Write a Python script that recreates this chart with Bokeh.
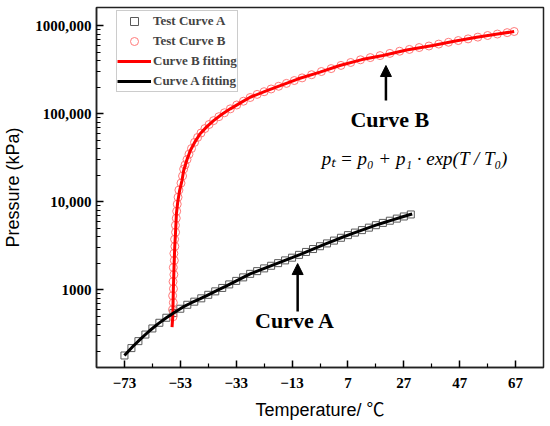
from bokeh.plotting import figure
from bokeh.models import Range1d, FixedTicker, Legend, LegendItem, Label, Arrow, NormalHead
from bokeh.embed import file_html
from bokeh.resources import INLINE

# ---------------- data ----------------
# Test Curve A (squares): temperature (degC) and pressure (kPa)
a_test_temp = [-73, -70.5, -68, -65.5, -63, -60.5, -58, -55.5, -53, -50.5,
               -48, -45.5, -43, -40.5, -38, -35.5, -33, -30.5, -28, -25.5,
               -23, -20.5, -18, -15.5, -13, -10.5, -8, -5.5, -3, -0.5,
               2, 4.5, 7, 9.5, 12, 14.5, 17, 19.5, 22, 24.5, 27, 29.5]
a_test_pres = [178, 216, 259, 308, 361, 419, 478, 540, 605, 671,
               728, 794, 871, 953, 1042, 1143, 1253, 1374, 1507, 1618,
               1738, 1862, 1995, 2143, 2301, 2477, 2673, 2884, 3105, 3342,
               3597, 3873, 4150, 4436, 4732, 5047, 5383, 5715, 6053, 6397, 6761, 7129]

# Test Curve B (circles)
b_test_temp = [-55.6, -55.8, -55.5, -55.75, -55.45, -55.6, -55.3, -55.5, -55.15, -55.3,
               -54.95, -55.05, -54.7, -54.75, -54.45, -54.3, -54.1, -53.8, -53.5, -52.75,
               -52.2, -51.8, -51.3, -50.6, -49.9, -49.0, -47.9, -46.8, -45.6, -44.2,
               -42.7, -41.1, -39.2, -37.2, -35.1, -32.8, -30.4, -28.0, -25.5, -23.0,
               -20.5, -17.8, -15.0, -12.2, -9.4, -6.0, -2.5, 1.0, 4.5, 8.0,
               11.5, 15.0, 18.5, 22.0, 25.5, 29.0, 32.5, 36.0, 39.5, 43.0,
               46.5, 50.0, 53.5, 57.0, 60.5, 64.0, 66.5]
b_test_pres = [490, 590, 710, 850, 1020, 1230, 1480, 1780, 2140, 2570,
               3090, 3720, 4470, 5370, 6460, 7760, 9330, 11200, 13500, 16200,
               19500, 23400, 26000, 30000, 34500, 40000, 47000, 53500, 60000, 67500,
               75000, 83000, 92000, 102000, 113000, 125000, 138000, 152000, 165000, 177000,
               190000, 204000, 220000, 237000, 254000, 276000, 300000, 324000, 352000, 380000,
               408000, 432000, 455000, 482000, 510000, 535000, 562000, 585000, 615000, 645000,
               675000, 705000, 738000, 770000, 800000, 830000, 855000]

# Curve A fitting (black line)
a_fit_temp = [-73, -70, -67, -64, -61, -58, -55, -52, -49, -46, -43, -40, -37, -34,
              -31, -28, -25, -22, -19, -16, -13, -10, -7, -4, -1, 2, 5, 8, 11, 14,
              17, 20, 23, 26, 29, 30]
a_fit_pres = [178, 225, 279, 340, 407, 478, 552, 634, 708, 782, 871, 970, 1081, 1208,
              1349, 1507, 1641, 1786, 1941, 2113, 2301, 2512, 2754, 3020, 3296, 3597, 3926,
              4266, 4613, 4989, 5383, 5781, 6194, 6622, 7063, 7211]

# Curve B fitting (red line)
b_fit_temp = [-55.96, -55.7, -55.5, -55.25, -55.0, -54.7, -54.4, -53.9, -53.25, -52.4,
              -51.8, -50.6, -49.4, -47.7, -45.9, -43.5, -41.1, -38.1, -35.1, -31.5,
              -28.0, -22.0, -16.0, -10.75, -3.0, 4.1, 12.0, 19.5, 28.0, 37.4,
              45.0, 53.1, 60.0, 66.5]
b_fit_pres = [373, 493, 975, 1800, 3020, 4500, 7240, 10000, 13300, 17300,
              22500, 30000, 38000, 48000, 58900, 71000, 83000, 98000, 113000, 132000,
              153000, 182000, 214000, 248000, 295000, 351000, 410000, 457000, 528000, 593000,
              662000, 736000, 795000, 855000]

x_ticks = [-73, -53, -33, -13, 7, 27, 47, 67]
x_tick_labels = ["\u221273", "\u221253", "\u221233", "\u221213", "7", "27", "47", "67"]
x_minor = [-63, -43, -23, -3, 17, 37, 57]
y_ticks = [1000, 10000, 100000, 1000000]
y_tick_labels = ["1000", "10,000", "100,000", "1000,000"]

y_minor = [m * 10 ** e for e in range(2, 7) for m in range(2, 10)]

# ---------------- figure ----------------
p = figure(width=550, height=426, output_backend="svg", toolbar_location=None,
           x_range=Range1d(-83, 77), y_range=Range1d(130, 1.602e6), y_axis_type="log",
           min_border_left=96, min_border_right=7, min_border_top=7, min_border_bottom=59,
           background_fill_color="white", border_fill_color="white")
p.grid.visible = False
p.outline_line_color = "#222222"
p.outline_line_width = 1.5

for ax in (p.xaxis[0], p.yaxis[0]):
    ax.axis_line_color = "#222222"
    ax.axis_line_width = 1.5
    ax.major_tick_in = 7
    ax.major_tick_out = 0
    ax.minor_tick_in = 4
    ax.minor_tick_out = 0
    ax.major_tick_line_width = 1.5
    ax.minor_tick_line_width = 1.2
    ax.major_label_text_font = "Liberation Serif"
    ax.major_label_text_font_style = "bold"
    ax.major_label_text_font_size = "15px"
    ax.major_label_text_color = "black"
    ax.axis_label_text_font = "Liberation Sans, Noto Sans CJK SC"
    ax.axis_label_text_font_style = "normal"
    ax.axis_label_text_font_size = "18px"
    ax.axis_label_text_color = "black"

p.xaxis.ticker = FixedTicker(ticks=x_ticks, minor_ticks=x_minor)
p.xaxis.major_label_overrides = dict(zip(x_ticks, x_tick_labels))
p.xaxis.major_label_standoff = 10
p.xaxis.axis_label = "Temperature/ \u2103"
p.xaxis.axis_label_standoff = 9

p.yaxis.ticker = FixedTicker(ticks=y_ticks, minor_ticks=y_minor)
p.yaxis.major_label_overrides = dict(zip(y_ticks, y_tick_labels))
p.yaxis.major_label_standoff = 5
p.yaxis.axis_label = "Pressure (kPa)"
p.yaxis.axis_label_standoff = 9

# ---------------- glyphs ----------------
ra = p.scatter(a_test_temp, a_test_pres, marker="square", size=7,
               line_color="#5a5a5a", fill_color=None, line_width=1)
rb = p.scatter(b_test_temp, b_test_pres, marker="circle", size=8,
               line_color="#ff7a7a", fill_color=None, line_width=1)
lb = p.line(b_fit_temp, b_fit_pres, line_color="#ff0000", line_width=3)
la = p.line(a_fit_temp, a_fit_pres, line_color="#000000", line_width=3)

legend = Legend(items=[LegendItem(label="Test Curve A", renderers=[ra]),
                       LegendItem(label="Test Curve B", renderers=[rb]),
                       LegendItem(label="Curve B fitting", renderers=[lb]),
                       LegendItem(label="Curve A fitting", renderers=[la])],
                location=(20, 275), padding=0, spacing=0, margin=0,
                glyph_width=34, glyph_height=20, label_height=20, label_standoff=2,
                label_text_font="Liberation Serif", label_text_font_style="bold",
                label_text_font_size="13px",
                border_line_color="#9a9a9a", border_line_width=1,
                background_fill_color="white", background_fill_alpha=1)
p.add_layout(legend)

# ---------------- annotations ----------------
p.add_layout(Arrow(end=NormalHead(size=11, fill_color="black", line_color="black"),
                   x_start=20.6, y_start=140600, x_end=20.6, y_end=351000,
                   line_color="black", line_width=2.5))
p.add_layout(Arrow(end=NormalHead(size=11, fill_color="black", line_color="black"),
                   x_start=-11.0, y_start=562, x_end=-11.0, y_end=1973,
                   line_color="black", line_width=2.5))

p.add_layout(Label(x=22.0, y=85500, text="Curve B", text_font="Liberation Serif",
                   text_font_style="bold", text_font_size="22px",
                   text_align="center", text_baseline="middle", text_color="black"))
p.add_layout(Label(x=-11.9, y=445, text="Curve A", text_font="Liberation Serif",
                   text_font_style="bold", text_font_size="22px",
                   text_align="center", text_baseline="middle", text_color="black"))
p.add_layout(Label(x=30.9, y=30800,
                   text="p\u209c = p\u2080 + p\u2081 \u00b7 exp(T / T\u2080)",
                   text_font="Liberation Serif", text_font_style="italic",
                   text_font_size="19px", text_align="center", text_baseline="middle",
                   text_color="black"))

open("out.html", "w").write(file_html(p, INLINE))
